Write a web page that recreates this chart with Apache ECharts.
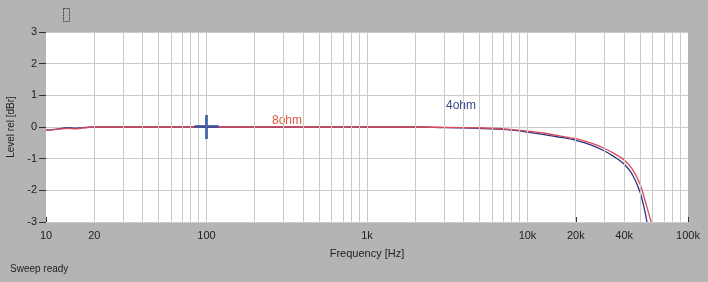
<!DOCTYPE html>
<html><head><meta charset="utf-8">
<script src="https://cdn.jsdelivr.net/npm/echarts@6/dist/echarts.min.js"></script>
<style>html,body{margin:0;padding:0;background:#b4b4b4;}#c{width:708px;height:282px;}</style>
</head><body><div id="c"></div>
<script>
// Frequency in Hz, level in dBr
const freq8 = [10, 11, 12, 13, 14, 15, 16, 17, 18, 20, 30, 50, 100, 200, 500, 1000, 2000, 3000, 5000, 6000, 8000, 10000, 12500, 15000, 20000, 25000, 30000, 35000, 40000, 45000, 50000, 53000, 56000, 59000];
const level8 = [-0.1, -0.09, -0.07, -0.05, -0.04, -0.06, -0.05, -0.03, -0.02, 0, 0, 0, 0, 0, 0, 0, 0, -0.01, -0.03, -0.04, -0.08, -0.13, -0.19, -0.26, -0.37, -0.51, -0.67, -0.85, -1.04, -1.33, -1.78, -2.18, -2.6, -3.0];
const freq4 = [10, 11, 12, 13, 14, 15, 16, 17, 18, 20, 30, 50, 100, 200, 500, 1000, 2000, 3000, 5000, 6000, 8000, 10000, 12500, 15000, 20000, 25000, 30000, 35000, 40000, 45000, 50000, 53000, 55500];
const level4 = [-0.1, -0.08, -0.06, -0.03, -0.02, -0.04, -0.03, -0.02, -0.01, 0, 0, 0, 0, 0, 0, 0, 0, -0.02, -0.04, -0.06, -0.1, -0.16, -0.23, -0.3, -0.42, -0.57, -0.75, -0.95, -1.17, -1.5, -2.02, -2.5, -3.0];
const xTickValues = [10, 20, 100, 1000, 10000, 20000, 40000, 100000];
const xTickLabels = ['10', '20', '100', '1k', '10k', '20k', '40k', '100k'];
const gridFreqs = [20,30,40,50,60,70,80,90,200,300,400,500,600,700,800,900,2000,3000,4000,5000,6000,7000,8000,9000,20000,30000,40000,50000,60000,70000,80000,90000,100,1000,10000];
const cursorPoint = [100, 0];

const lg = v => Math.log10(v);
const toPts = (f, l) => f.map((v, i) => [lg(v), l[i]]);
const labelMap = {};
xTickValues.forEach((v, i) => { labelMap[lg(v).toFixed(4)] = xTickLabels[i]; });

const chart = echarts.init(document.getElementById('c'));
chart.setOption({
  backgroundColor: '#b4b4b4',
  animation: false,
  textStyle: { fontFamily: 'Liberation Sans, Arial, sans-serif' },
  grid: { left: 46, right: 20, top: 32, bottom: 60, show: true, backgroundColor: '#ffffff', borderWidth: 0,
    containLabel: false, outerBoundsMode: 'none' },
  xAxis: {
    type: 'value', min: 1, max: 5,
    name: 'Frequency [Hz]', nameLocation: 'middle', nameGap: 26,
    nameTextStyle: { color: '#222', fontSize: 11 },
    axisLine: { show: false, onZero: false },
    splitLine: { show: false },
    axisTick: { show: true, inside: true, length: 5, lineStyle: { color: '#333' }, customValues: xTickValues.map(lg) },
    axisLabel: { color: '#222', fontSize: 11, margin: 8, customValues: xTickValues.map(lg),
      formatter: v => labelMap[Number(v).toFixed(4)] || '' }
  },
  yAxis: {
    type: 'value', min: -3, max: 3, interval: 1,
    name: 'Level rel [dBr]', nameLocation: 'middle', nameGap: 28, nameRotate: 90,
    nameTextStyle: { color: '#222', fontSize: 10 },
    axisLine: { show: false, onZero: false },
    axisTick: { show: true, length: 7, lineStyle: { color: '#333' } },
    axisLabel: { color: '#222', fontSize: 11, margin: 9 },
    splitLine: { show: true, lineStyle: { color: '#cbcbcb', width: 1 } }
  },
  series: [
    {
      type: 'line', silent: true, data: [], symbol: 'none',
      markLine: {
        silent: true, symbol: 'none', animation: false,
        label: { show: false },
        lineStyle: { color: '#c9c9c9', width: 1, type: 'solid' },
        data: gridFreqs.map(f => ({ xAxis: lg(f) }))
      }
    },
    {
      name: '4ohm', type: 'line', data: toPts(freq4, level4), symbol: 'none', smooth: 0.3,
      lineStyle: { color: '#2c3580', width: 1.3 }, z: 3
    },
    {
      name: '8ohm', type: 'line', data: toPts(freq8, level8), symbol: 'none', smooth: 0.3,
      lineStyle: { color: '#d9485a', width: 1.3 }, z: 4
    },
    {
      type: 'scatter', data: [[lg(cursorPoint[0]), cursorPoint[1]]],
      symbol: 'path://M0,10h24v3h-24z M10.5,0h3v24h-3z', symbolSize: [24, 24],
      itemStyle: { color: '#2a4fa0' }, z: 5, silent: true
    }
  ],
  graphic: [
    { type: 'text', left: 272, top: 115, style: { text: '8ohm', fill: '#e0583a', font: '12px Liberation Sans, Arial, sans-serif' } },
    { type: 'text', left: 446, top: 100, style: { text: '4ohm', fill: '#3b4688', font: '12px Liberation Sans, Arial, sans-serif' } },
    { type: 'text', left: 10, top: 264, style: { text: 'Sweep ready', fill: '#222', font: '10px Liberation Sans, Arial, sans-serif' } },
    { type: 'rect', shape: { x: 63.5, y: 8.5, width: 6, height: 13 }, style: { fill: 'none', stroke: '#444', lineWidth: 1, lineDash: [2, 1] } }
  ]
});
</script></body></html>
